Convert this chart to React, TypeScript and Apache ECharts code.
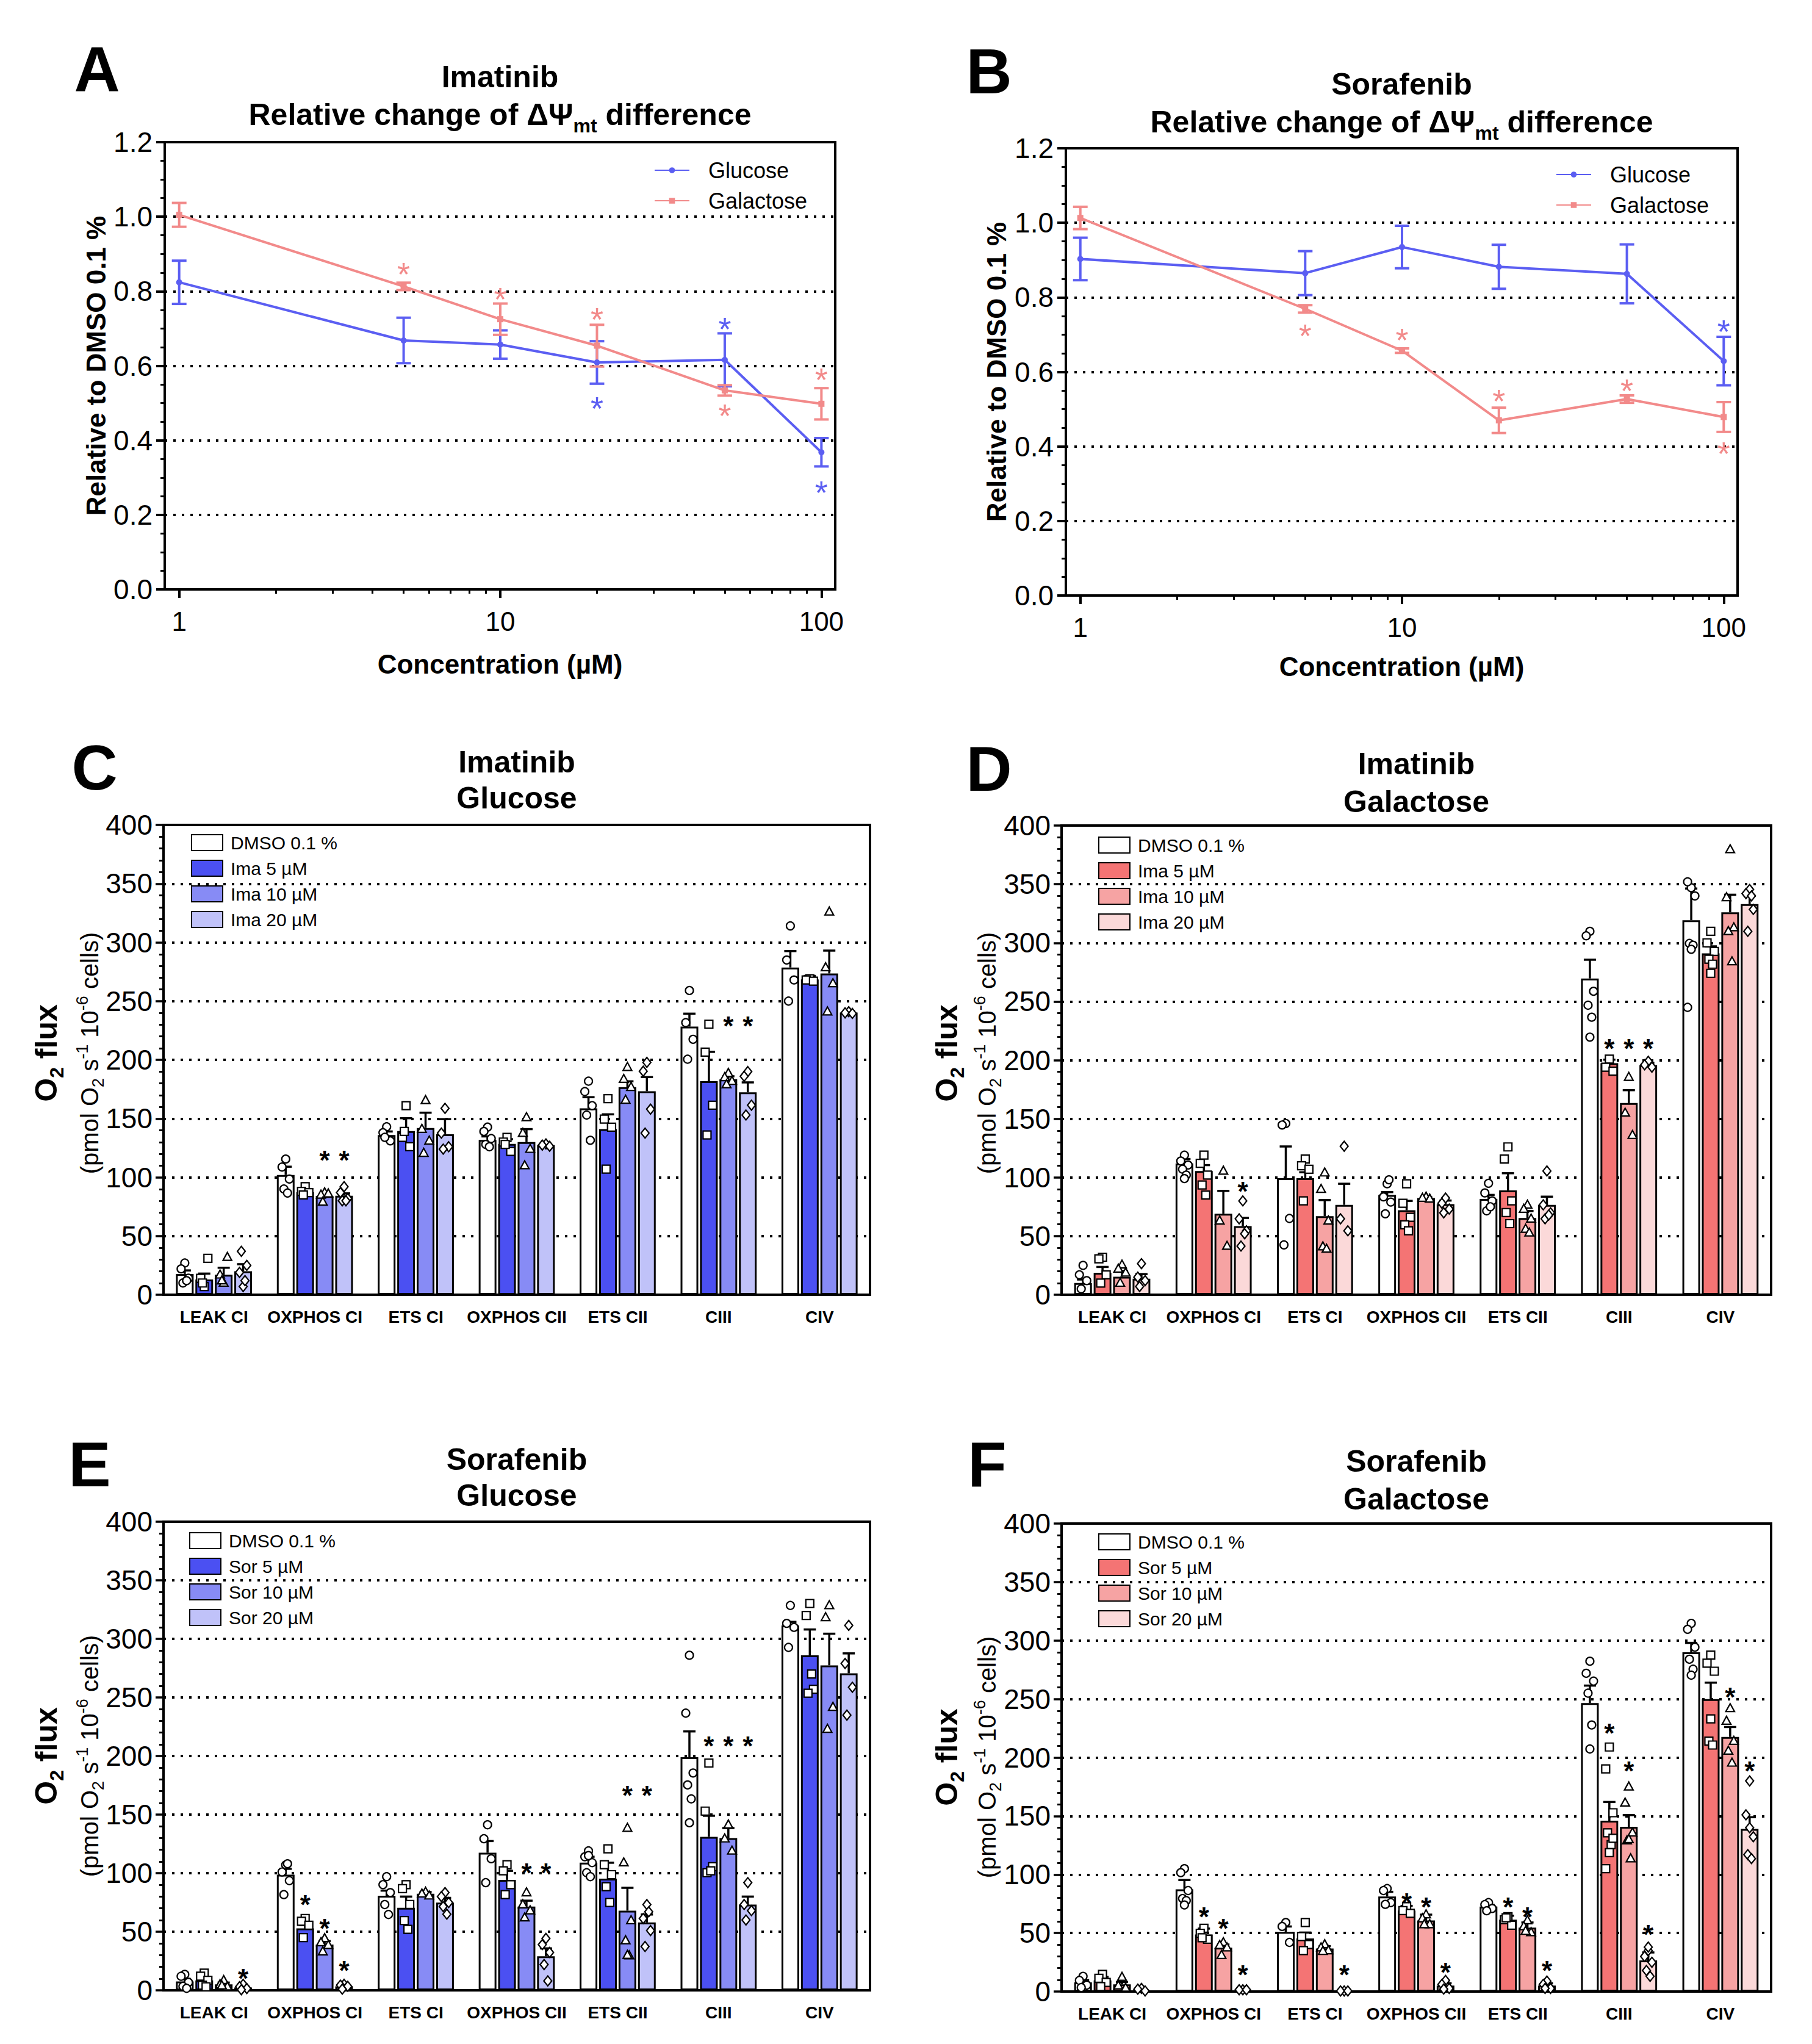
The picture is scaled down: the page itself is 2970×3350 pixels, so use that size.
import React, { useEffect, useRef } from "react";
import * as echarts from "echarts";

const FONT = '"Liberation Sans", Arial, Helvetica, sans-serif';

// ---------------- Panels A & B (line charts) ----------------
const CONC = [1, 5, 10, 20, 50, 100];
const X_LABEL_VALUES = [1, 10, 100];
const X_MINOR_VALUES = [2, 3, 4, 5, 6, 7, 8, 9, 20, 30, 40, 50, 60, 70, 80, 90];

const IMA_GLU = [0.824, 0.668, 0.657, 0.609, 0.616, 0.368];
const IMA_GLU_SEM = [0.058, 0.061, 0.038, 0.057, 0.071, 0.038];
const IMA_GAL = [1.005, 0.813, 0.725, 0.654, 0.534, 0.498];
const IMA_GAL_SEM = [0.032, 0.01, 0.042, 0.056, 0.014, 0.042];
const IMA_GLU_STARS = [[20, 0.507], [50, 0.719], [100, 0.281]];
const IMA_GAL_STARS = [[5, 0.866], [10, 0.8], [20, 0.745], [50, 0.487], [100, 0.583]];

const SOR_GLU = [0.903, 0.865, 0.935, 0.882, 0.863, 0.629];
const SOR_GLU_SEM = [0.057, 0.059, 0.057, 0.059, 0.079, 0.065];
const SOR_GAL = [1.013, 0.769, 0.657, 0.47, 0.527, 0.479];
const SOR_GAL_SEM = [0.03, 0.01, 0.006, 0.034, 0.01, 0.04];
const SOR_GLU_STARS = [[100, 0.729]];
const SOR_GAL_STARS = [[5, 0.717], [10, 0.706], [20, 0.542], [50, 0.57], [100, 0.402]];

const LINE_BLUE = "#5b5ef2";
const LINE_PINK = "#f28a8a";

// ---------------- Panels C-F (bar charts) ----------------
const CATEGORIES = ["LEAK CI", "OXPHOS CI", "ETS CI", "OXPHOS CII", "ETS CII", "CIII", "CIV"];
const IMA_NAMES = ["DMSO 0.1 %", "Ima 5 µM", "Ima 10 µM", "Ima 20 µM"];
const SOR_NAMES = ["DMSO 0.1 %", "Sor 5 µM", "Sor 10 µM", "Sor 20 µM"];
const BLUES = ["#ffffff", "#4b50f2", "#878bf5", "#c0c2f9"];
const PINKS = ["#ffffff", "#f47474", "#f6a3a3", "#fbd9d9"];

// C: Imatinib, glucose
const C_MEAN_DMSO = [17.7, 102, 136, 131.8, 158.7, 228.3, 278.6];
const C_MEAN_5 = [13, 87.3, 139.3, 128.4, 141, 181.8, 268.4];
const C_MEAN_10 = [17, 84, 142, 130, 176.7, 183.5, 273.5];
const C_MEAN_20 = [20, 84.3, 136.6, 127.4, 173.3, 172.3, 240.2];
const C_SEM_DMSO = [3, 7, 3, 3, 9.5, 11, 14];
const C_SEM_5 = [5, 2, 11, 4, 12.6, 25, 3];
const C_SEM_10 = [6, 1.5, 13, 11, 5, 2.5, 19.5];
const C_SEM_20 = [6, 2, 12.9, 1, 12, 8.5, 1.5];
const C_PTS_DMSO = [[27, 22, 14, 10, 12], [115.5, 108.7, 98.5, 90, 86.6], [143, 138, 131, 134], [142.7, 139, 133, 128, 126], [181.8, 173, 161, 153, 131.5], [259, 231.7, 217.5, 200.5], [314, 285, 268, 250]];
const C_PTS_5 = [[7, 14, 31, 10], [92, 88, 87, 85], [161, 134, 126, 139], [134, 130, 122, 128], [167, 149.5, 142.7, 107], [230.4, 206.6, 161.4, 136], [269, 268, 267]];
const C_PTS_10 = [[10, 17, 32, 12], [87, 85, 86, 79], [165.5, 141, 131, 120.6], [151, 137.6, 124, 110], [193.7, 183.5, 176.7, 165.8], [188.6, 185, 181.8, 179], [326, 278.6, 265, 241]];
const C_PTS_20 = [[7, 19, 25, 37, 12], [92, 87, 82, 80, 80], [158.7, 137.6, 126, 124], [128.4, 127.4, 126.4], [197.8, 190.3, 158, 137.6], [190, 186, 161.4, 153], [241, 240, 239.5]];
const C_STARS = [[1, 2, 120], [1, 3, 120], [5, 2, 234], [5, 3, 234]];

// D: Imatinib, galactose
const D_MEAN_DMSO = [10, 112, 99.4, 85, 81.7, 269.6, 319.3];
const D_MEAN_5 = [18.7, 105.5, 99.4, 72, 89, 197.4, 291];
const D_MEAN_10 = [15.3, 69, 67, 82.4, 65.4, 163.4, 326];
const D_MEAN_20 = [13.6, 58.5, 76.6, 77.3, 76.6, 195.7, 333];
const D_SEM_DMSO = [3, 3.7, 27, 2.5, 3.4, 16, 27];
const D_SEM_5 = [5, 5, 5, 8, 14.6, 3, 6];
const D_SEM_10 = [5, 19.5, 13.7, 1, 6, 11, 15];
const D_SEM_20 = [4, 7, 18, 3, 7, 2, 7];
const D_PTS_DMSO = [[25, 17, 12, 5], [119, 114, 110.6, 107, 102, 99], [146, 144.7, 65, 42.5], [94.6, 83.4, 79, 69, 98], [95, 86.8, 80, 71.5, 75], [309.8, 306, 258.7, 246.8, 236.6, 219.6], [347, 352, 340, 299.5, 298, 294.5, 245]];
const D_PTS_5 = [[32, 30.6, 17, 10], [119, 112, 102, 93.6, 85], [115.7, 110, 107, 80], [94.6, 78, 66, 59.6, 54.5], [126, 115.7, 80, 70, 60.6], [200.8, 194, 190.6], [309.8, 300, 292.7, 286, 281.8, 274]];
const D_PTS_10 = [[25.5, 22, 18.7, 10], [105.5, 63, 41.5], [104, 90, 63, 41, 39], [83.4, 82.4, 81.7], [76.6, 73, 64.7, 56, 52.8], [185.5, 155, 136], [379.6, 338.7, 313, 309.8, 284]];
const D_PTS_20 = [[26.5, 15, 12, 7], [80, 64.7, 54.5, 41.5, 52], [126.6, 64.7, 54.5], [82.4, 78, 73, 69.8], [105.5, 76.6, 69.8, 64.7, 68], [199, 196, 194], [345.5, 342, 328.5, 309.8, 340]];
const D_STARS = [[1, 3, 93.6], [5, 1, 215], [5, 2, 215], [5, 3, 215]];

// E: Sorafenib, glucose
const E_MEAN_DMSO = [7.5, 98.7, 80.7, 117.4, 109, 199, 311.5];
const E_MEAN_5 = [8.5, 52.8, 70.5, 94.3, 95.3, 131, 286];
const E_MEAN_10 = [5.1, 39, 82.4, 71.5, 68, 130, 277.4];
const E_MEAN_20 = [2.4, 3.4, 74.9, 29, 57.9, 73.2, 270.6];
const E_SEM_DMSO = [2.2, 5, 4.4, 10, 5, 22, 3];
const E_SEM_5 = [2.5, 3, 9.5, 7.7, 13.6, 18, 22];
const E_SEM_10 = [1.5, 3, 1.5, 5, 19.5, 8.5, 27];
const E_SEM_20 = [1, 0.5, 4, 6.8, 6.8, 6.8, 17];
const E_PTS_DMSO = [[13.6, 12, 6.8, 3.4, 1.7], [107, 101, 93.6, 81.7, 108], [97, 90.2, 83.4, 73.2, 64.7], [141.3, 129.4, 112.3, 91.9], [119, 114, 109, 100.4, 97, 115], [286, 236.6, 185.5, 175.3, 163.4, 143], [328.5, 313.2, 309.8, 292.7]];
const E_PTS_5 = [[14.6, 12, 8.5, 4.4, 3], [61.3, 58.9, 55.5, 45], [90.2, 86.8, 73.2, 59.6, 52], [107.2, 102, 90.2, 81.7], [120.8, 107.2, 98.7, 88.5, 75], [194, 153, 105.5, 100.4, 102], [330.2, 320, 257, 253.6, 270]];
const E_PTS_10 = [[8.5, 5, 3, 4], [44.3, 40.8, 38.5, 33], [84, 82.4, 80.7], [83.4, 73.2, 68, 62], [138.5, 109, 59.6, 42.5, 29.6, 30], [141.3, 129.4, 119], [328.5, 318.3, 241.7, 223]];
const E_PTS_20 = [[5.1, 3, 1.5, 0.5], [5.1, 4.4, 3.4, 1], [83.4, 80, 74.9, 71.5, 65], [44.3, 39, 32.3, 22, 8], [73.2, 61.3, 51, 37.4, 67], [91.9, 73.2, 68, 60], [311.5, 279, 258.7, 234.9]];
const E_STARS = [[0, 3, 15.3], [1, 1, 78.3], [1, 2, 57.9], [1, 3, 22], [3, 2, 105.5], [3, 3, 105.5], [4, 2, 171.9], [4, 3, 171.9], [5, 1, 213.8], [5, 2, 213.8], [5, 3, 213.8]];

// F: Sorafenib, galactose
const F_MEAN_DMSO = [7.8, 87.3, 51, 81.2, 72.6, 246.5, 290];
const F_MEAN_5 = [9.5, 48.8, 45.4, 69.2, 61.4, 146, 250];
const F_MEAN_10 = [6.1, 37.5, 36.8, 60.7, 54.6, 140.8, 217.6];
const F_MEAN_20 = [1.2, 1.5, 0.5, 5.1, 5.1, 26.6, 139];
const F_SEM_DMSO = [2, 8, 4.6, 4, 1.5, 15, 8];
const F_SEM_5 = [3, 5, 5, 4, 3.4, 16, 14];
const F_SEM_10 = [2, 2.7, 2, 5, 4.4, 10, 8.5];
const F_SEM_20 = [0.5, 0.3, 0.2, 2, 2, 6.8, 10];
const F_PTS_DMSO = [[13, 9.5, 5.5, 3.4], [105, 101.6, 86.3, 79.5, 77.7, 74], [59, 55.6, 42], [88, 86.3, 76, 74.5], [76, 74.3, 71, 69], [282.3, 272, 265.3, 255, 227.8, 207.3], [314.7, 309.6, 294.3, 284, 275.5, 270.4]];
const F_PTS_5 = [[14.7, 11.3, 7.8, 4.2], [54, 49.8, 44.7, 46], [59, 47, 40.2, 35], [72.6, 69.2, 66.8], [64, 61.4, 56.6, 63], [209, 190.3, 152.8, 135.7, 125.5, 118.7, 105, 131], [287.5, 280.6, 273.8, 214, 210.7, 233]];
const F_PTS_10 = [[12.3, 5, 3], [42, 39.6, 37.5, 31], [40.2, 37.5, 35, 34.5], [65.8, 62.4, 57.3, 57.3], [60.7, 55.6, 50.5, 51.6], [175, 161.3, 135.7, 129, 113.6, 130], [242, 231.2, 214, 205.6, 195.4]];
const F_PTS_20 = [[2.7, 2, 0.5], [1.5, 1.5, 1.5], [0.5, 0.5, 0.5], [9.5, 6.1, 2.7, 2.1], [8.9, 6.1, 2.7, 2.7], [35, 30, 25, 18, 13, 38], [180, 151, 132.3, 117, 113.6, 140]];
const F_STARS = [[1, 1, 69.2], [1, 2, 59], [1, 3, 19.8], [2, 3, 19.8], [3, 1, 81.2], [3, 2, 77.7], [3, 3, 21.5], [4, 1, 77.7], [4, 2, 69.2], [4, 3, 23.2], [5, 1, 226], [5, 2, 193.7], [5, 3, 53.9], [6, 2, 256.8], [6, 3, 193.7]];

// ---------------- helpers ----------------
const BAR_W = 29;
const BAR_STEP = BAR_W * 1.1;
const JITTER = [0, -6, 6, -3, 3, 0, -6, 6];

function txt(x: number, y: number, text: string, size: number, bold: boolean, extra: any = {}) {
  return {
    type: "text",
    x,
    y,
    silent: true,
    ...extra,
    style: {
      text,
      fontSize: size,
      fontWeight: bold ? "bold" : "normal",
      fontFamily: FONT,
      fill: "#000",
      align: "center",
      verticalAlign: "middle",
      ...(extra.style || {}),
    },
  };
}

function richTxt(x: number, y: number, text: string, rich: any, rotation = 0) {
  return {
    type: "text",
    x,
    y,
    rotation,
    silent: true,
    style: { text, rich, align: "center", verticalAlign: "middle", fontFamily: FONT, fill: "#000" },
  };
}

const rs = (size: number, bold: boolean, padding?: number[]) => ({
  fontSize: size,
  fontWeight: bold ? "bold" : "normal",
  fontFamily: FONT,
  fill: "#000",
  ...(padding ? { padding } : {}),
});

function starText(x: number, y: number, size: number, color: string, bold: boolean) {
  return {
    type: "text",
    x,
    y: y + size * 0.23,
    style: {
      text: "*",
      fontSize: size,
      fontWeight: bold ? "bold" : "normal",
      fontFamily: FONT,
      fill: color,
      align: "center",
      verticalAlign: "middle",
    },
  };
}

function marker(kind: number, x: number, y: number) {
  const r = 6.5;
  const style = { fill: "#ffffff", stroke: "#000", lineWidth: 2.2 };
  if (kind === 0) return { type: "circle", shape: { cx: x, cy: y, r }, style };
  if (kind === 1) return { type: "rect", shape: { x: x - r, y: y - r, width: 2 * r, height: 2 * r }, style };
  if (kind === 2)
    return { type: "polygon", shape: { points: [[x, y - r * 1.2], [x + r * 1.1, y + r * 0.8], [x - r * 1.1, y + r * 0.8]] }, style };
  return { type: "polygon", shape: { points: [[x, y - r * 1.25], [x + r, y], [x, y + r * 1.25], [x - r, y]] }, style };
}

// ---------------- line panel option ----------------
function lineOption(cfg: any) {
  const lx = (c: number) => Math.log10(c);
  const toXY = (vals: number[]) => CONC.map((c, i) => [lx(c), vals[i]]);
  const toErr = (vals: number[], sems: number[]) => CONC.map((c, i) => [lx(c), vals[i], sems[i]]);
  const CAP = 12;
  const errSeries = (name: string, data: any[], color: string) => ({
    type: "custom",
    name,
    data,
    encode: { x: 0, y: 1 },
    z: 3,
    renderItem: (p: any, api: any) => {
      const x = api.value(0), m = api.value(1), s = api.value(2);
      const lo = api.coord([x, m - s]);
      const hi = api.coord([x, m + s]);
      const style = { stroke: color, lineWidth: 4 };
      return {
        type: "group",
        children: [
          { type: "line", shape: { x1: lo[0], y1: lo[1], x2: hi[0], y2: hi[1] }, style },
          { type: "line", shape: { x1: lo[0] - CAP, y1: lo[1], x2: lo[0] + CAP, y2: lo[1] }, style },
          { type: "line", shape: { x1: hi[0] - CAP, y1: hi[1], x2: hi[0] + CAP, y2: hi[1] }, style },
        ],
      };
    },
  });
  const starSeries = (name: string, stars: number[][], color: string) => ({
    type: "custom",
    name,
    data: stars.map((s) => [lx(s[0]), s[1]]),
    encode: { x: 0, y: 1 },
    z: 4,
    renderItem: (p: any, api: any) => {
      const pt = api.coord([api.value(0), api.value(1)]);
      return starText(pt[0], pt[1], 54, color, false);
    },
  });
  const g = cfg.grid;
  const cx = g.left + g.width / 2;
  const cy = g.top + g.height / 2;
  return {
    animation: false,
    backgroundColor: "#fff",
    grid: { left: g.left, top: g.top, width: g.width, height: g.height, show: true, borderColor: "#000", borderWidth: 4, backgroundColor: "transparent" },
    legend: {
      data: ["Glucose", "Galactose"],
      orient: "vertical",
      left: cfg.legendLeft,
      top: cfg.legendTop,
      itemWidth: 57,
      itemHeight: 12,
      itemGap: 14,
      textStyle: { fontSize: 36, fontFamily: FONT, color: "#000", lineHeight: 36, padding: [0, 0, 0, 26] },
    },
    xAxis: [
      {
        type: "value",
        min: -0.045,
        max: 2.043,
        axisLine: { onZero: false, lineStyle: { color: "#000", width: 4 } },
        axisTick: { customValues: X_LABEL_VALUES.map(lx), length: 14, lineStyle: { color: "#000", width: 4 } },
        axisLabel: {
          customValues: X_LABEL_VALUES.map(lx),
          formatter: (v: number) => String(Math.round(Math.pow(10, v))),
          fontSize: 44,
          fontFamily: FONT,
          color: "#000",
          margin: 30,
        },
        splitLine: { show: false },
      },
      {
        type: "value",
        position: "bottom",
        min: -0.045,
        max: 2.043,
        axisLine: { show: false, onZero: false },
        axisTick: { customValues: X_MINOR_VALUES.map(lx), length: 7, lineStyle: { color: "#000", width: 3 } },
        axisLabel: { show: false },
        splitLine: { show: false },
      },
    ],
    yAxis: {
      type: "value",
      min: 0,
      max: 1.2,
      interval: 0.2,
      axisLine: { show: true, onZero: false, lineStyle: { color: "#000", width: 4 } },
      axisTick: { show: true, length: 14, lineStyle: { color: "#000", width: 4 } },
      minorTick: { show: true, splitNumber: 4, length: 7, lineStyle: { color: "#000", width: 3 } },
      axisLabel: { formatter: (v: number) => v.toFixed(1), fontSize: 46, fontFamily: FONT, color: "#000", margin: 20 },
      splitLine: { show: true, lineStyle: { color: "#000", width: 4, type: [4, 10] } },
    },
    series: [
      {
        type: "line",
        name: "Glucose",
        data: toXY(cfg.glu),
        color: LINE_BLUE,
        lineStyle: { width: 4, color: LINE_BLUE },
        symbol: "circle",
        symbolSize: 10,
        itemStyle: { color: LINE_BLUE },
        z: 5,
      },
      {
        type: "line",
        name: "Galactose",
        data: toXY(cfg.gal),
        color: LINE_PINK,
        lineStyle: { width: 4, color: LINE_PINK },
        symbol: "rect",
        symbolSize: 10,
        itemStyle: { color: LINE_PINK },
        z: 5,
      },
      errSeries("glu-err", toErr(cfg.glu, cfg.gluSem), LINE_BLUE),
      errSeries("gal-err", toErr(cfg.gal, cfg.galSem), LINE_PINK),
      starSeries("glu-star", cfg.gluStars, LINE_BLUE),
      starSeries("gal-star", cfg.galStars, LINE_PINK),
    ],
    graphic: [
      txt(cfg.letter[0], cfg.letter[1], cfg.letterText, 104, true),
      txt(cx, cfg.titleY[0], cfg.drug, 50, true),
      richTxt(cx, cfg.titleY[1], "{b|Relative change of ΔΨ}{s|mt}{b| difference}", {
        b: rs(50, true),
        s: rs(32, true, [36, 0, 0, 0]),
      }),
      txt(cfg.yTitleX, cy, "Relative to DMSO 0.1 %", 44, true, { rotation: Math.PI / 2 }),
      txt(cx, cfg.xTitleY, "Concentration (µM)", 44, true),
    ],
  };
}

// ---------------- bar panel option ----------------
function barOption(cfg: any) {
  const g = cfg.grid;
  const cx = g.left + g.width / 2;
  const series: any[] = [];
  cfg.names.forEach((name: string, k: number) => {
    series.push({
      type: "bar",
      name,
      data: cfg.means[k],
      barWidth: BAR_W,
      barGap: "10%",
      itemStyle: { color: cfg.colors[k], borderColor: "#000", borderWidth: 3 },
      z: 2,
    });
  });
  cfg.names.forEach((name: string, k: number) => {
    const off = (k - 1.5) * BAR_STEP;
    series.push({
      type: "custom",
      name: "err" + k,
      data: cfg.means[k].map((m: number, i: number) => [i, m, cfg.sems[k][i]]),
      encode: { x: 0, y: 1 },
      z: 3,
      renderItem: (p: any, api: any) => {
        const i = api.value(0), m = api.value(1), s = api.value(2);
        const base = api.coord([i, m]);
        const top = api.coord([i, m + s]);
        const x = base[0] + off;
        const style = { stroke: "#000", lineWidth: 3.5 };
        return {
          type: "group",
          children: [
            { type: "line", shape: { x1: x, y1: base[1], x2: x, y2: top[1] }, style },
            { type: "line", shape: { x1: x - 10, y1: top[1], x2: x + 10, y2: top[1] }, style },
          ],
        };
      },
    });
  });
  cfg.names.forEach((name: string, k: number) => {
    const off = (k - 1.5) * BAR_STEP;
    const data: any[] = [];
    cfg.points[k].forEach((arr: number[], i: number) => arr.forEach((v: number, j: number) => data.push([i, v, j])));
    series.push({
      type: "custom",
      name: "pts" + k,
      data,
      encode: { x: 0, y: 1 },
      z: 4,
      renderItem: (p: any, api: any) => {
        const pt = api.coord([api.value(0), api.value(1)]);
        const j = api.value(2);
        return marker(k, pt[0] + off + JITTER[j % JITTER.length], pt[1]);
      },
    });
  });
  series.push({
    type: "custom",
    name: "stars",
    data: cfg.stars.map((s: number[]) => [s[0], s[2], s[1]]),
    encode: { x: 0, y: 1 },
    z: 5,
    renderItem: (p: any, api: any) => {
      const pt = api.coord([api.value(0), api.value(1)]);
      const k = api.value(2);
      return starText(pt[0] + (k - 1.5) * BAR_STEP, pt[1], 44, "#000", true);
    },
  });

  return {
    animation: false,
    backgroundColor: "#fff",
    grid: { left: g.left, top: g.top, width: g.width, height: g.height, show: true, borderColor: "#000", borderWidth: 4, backgroundColor: "transparent" },
    legend: {
      data: cfg.names,
      orient: "vertical",
      left: cfg.legendLeft,
      top: cfg.legendTop,
      icon: "rect",
      itemWidth: 51,
      itemHeight: 26,
      itemGap: 12,
      textStyle: { fontSize: 30, fontFamily: FONT, color: "#000", lineHeight: 30, padding: [0, 0, 0, 8] },
    },
    xAxis: {
      type: "category",
      data: CATEGORIES,
      axisLine: { lineStyle: { color: "#000", width: 4 } },
      axisTick: { show: false },
      axisLabel: { interval: 0, fontSize: 28, fontWeight: "bold", fontFamily: FONT, color: "#000", margin: 22 },
      splitLine: { show: false },
    },
    yAxis: {
      type: "value",
      min: 0,
      max: 400,
      interval: 50,
      axisLine: { show: true, lineStyle: { color: "#000", width: 4 } },
      axisTick: { show: true, length: 13, lineStyle: { color: "#000", width: 3.5 } },
      minorTick: { show: true, splitNumber: 5, length: 7, lineStyle: { color: "#000", width: 3 } },
      axisLabel: { fontSize: 46, fontFamily: FONT, color: "#000", margin: 18 },
      splitLine: { show: true, lineStyle: { color: "#000", width: 4, type: [4, 10] } },
    },
    series,
    graphic: [
      txt(cfg.letter[0], cfg.letter[1], cfg.letterText, 104, true),
      txt(cx, cfg.titleY[0], cfg.drug, 50, true),
      txt(cx, cfg.titleY[1], cfg.medium, 50, true),
      richTxt(cfg.yTitleX[0], cfg.yTitleY, "{b|O}{s|2}{b| flux}", { b: rs(50, true), s: rs(32, true, [34, 0, 0, 0]) }, Math.PI / 2),
      richTxt(
        cfg.yTitleX[1],
        cfg.yTitleY,
        "{n|(pmol O}{s|2}{n| s}{p|-1}{n| 10}{p|-6}{n| cells)}",
        { n: rs(40, false), s: rs(27, false, [28, 0, 0, 0]), p: rs(27, false, [0, 0, 24, 0]) },
        Math.PI / 2
      ),
    ],
  };
}

// ---------------- options ----------------
const optA = lineOption({
  grid: { left: 270, top: 233, width: 1099, height: 733 },
  glu: IMA_GLU, gluSem: IMA_GLU_SEM, gal: IMA_GAL, galSem: IMA_GAL_SEM,
  gluStars: IMA_GLU_STARS, galStars: IMA_GAL_STARS,
  legendLeft: 1067, legendTop: 256,
  letter: [159, 113], letterText: "A", drug: "Imatinib", titleY: [126, 188],
  yTitleX: 157, xTitleY: 1088,
});
const optB = lineOption({
  grid: { left: 262, top: 243, width: 1101, height: 733 },
  glu: SOR_GLU, gluSem: SOR_GLU_SEM, gal: SOR_GAL, galSem: SOR_GAL_SEM,
  gluStars: SOR_GLU_STARS, galStars: SOR_GAL_STARS,
  legendLeft: 1060, legendTop: 263,
  letter: [136, 117], letterText: "B", drug: "Sorafenib", titleY: [138, 200],
  yTitleX: 148, xTitleY: 1092,
});
const optC = barOption({
  grid: { left: 268, top: 202, width: 1158, height: 770 },
  names: IMA_NAMES, colors: BLUES,
  means: [C_MEAN_DMSO, C_MEAN_5, C_MEAN_10, C_MEAN_20],
  sems: [C_SEM_DMSO, C_SEM_5, C_SEM_10, C_SEM_20],
  points: [C_PTS_DMSO, C_PTS_5, C_PTS_10, C_PTS_20],
  stars: C_STARS,
  legendLeft: 308, legendTop: 211,
  letter: [155, 108], letterText: "C", drug: "Imatinib", medium: "Glucose", titleY: [99, 158],
  yTitleX: [76, 147], yTitleY: 576,
});
const optD = barOption({
  grid: { left: 255, top: 203, width: 1163, height: 769 },
  names: IMA_NAMES, colors: PINKS,
  means: [D_MEAN_DMSO, D_MEAN_5, D_MEAN_10, D_MEAN_20],
  sems: [D_SEM_DMSO, D_SEM_5, D_SEM_10, D_SEM_20],
  points: [D_PTS_DMSO, D_PTS_5, D_PTS_10, D_PTS_20],
  stars: D_STARS,
  legendLeft: 310, legendTop: 215,
  letter: [136, 110], letterText: "D", drug: "Imatinib", medium: "Galactose", titleY: [102, 164],
  yTitleX: [67, 133], yTitleY: 576,
});
const optE = barOption({
  grid: { left: 268, top: 214, width: 1158, height: 768 },
  names: SOR_NAMES, colors: BLUES,
  means: [E_MEAN_DMSO, E_MEAN_5, E_MEAN_10, E_MEAN_20],
  sems: [E_SEM_DMSO, E_SEM_5, E_SEM_10, E_SEM_20],
  points: [E_PTS_DMSO, E_PTS_5, E_PTS_10, E_PTS_20],
  stars: E_STARS,
  legendLeft: 305, legendTop: 225,
  letter: [147, 120], letterText: "E", drug: "Sorafenib", medium: "Glucose", titleY: [112, 171],
  yTitleX: [76, 147], yTitleY: 598,
});
const optF = barOption({
  grid: { left: 255, top: 217, width: 1163, height: 767 },
  names: SOR_NAMES, colors: PINKS,
  means: [F_MEAN_DMSO, F_MEAN_5, F_MEAN_10, F_MEAN_20],
  sems: [F_SEM_DMSO, F_SEM_5, F_SEM_10, F_SEM_20],
  points: [F_PTS_DMSO, F_PTS_5, F_PTS_10, F_PTS_20],
  stars: F_STARS,
  legendLeft: 310, legendTop: 227,
  letter: [133, 120], letterText: "F", drug: "Sorafenib", medium: "Galactose", titleY: [115, 177],
  yTitleX: [67, 133], yTitleY: 600,
});

function Panel(props: { left: number; top: number; width: number; height: number; option: any }) {
  const ref = useRef<HTMLDivElement>(null);
  useEffect(() => {
    const chart = echarts.init(ref.current as HTMLDivElement, null, { renderer: "svg" });
    chart.setOption(props.option);
    return () => chart.dispose();
  }, []);
  return (
    <div
      ref={ref}
      style={{ position: "absolute", left: props.left, top: props.top, width: props.width, height: props.height }}
    />
  );
}

export default function App() {
  return (
    <div style={{ position: "absolute", left: 0, top: 0, width: 2970, height: 3350, background: "#fff", overflow: "hidden" }}>
      <Panel left={0} top={0} width={1485} height={1150} option={optA} />
      <Panel left={1485} top={0} width={1485} height={1150} option={optB} />
      <Panel left={0} top={1150} width={1485} height={1130} option={optC} />
      <Panel left={1485} top={1150} width={1485} height={1130} option={optD} />
      <Panel left={0} top={2280} width={1485} height={1070} option={optE} />
      <Panel left={1485} top={2280} width={1485} height={1070} option={optF} />
    </div>
  );
}
